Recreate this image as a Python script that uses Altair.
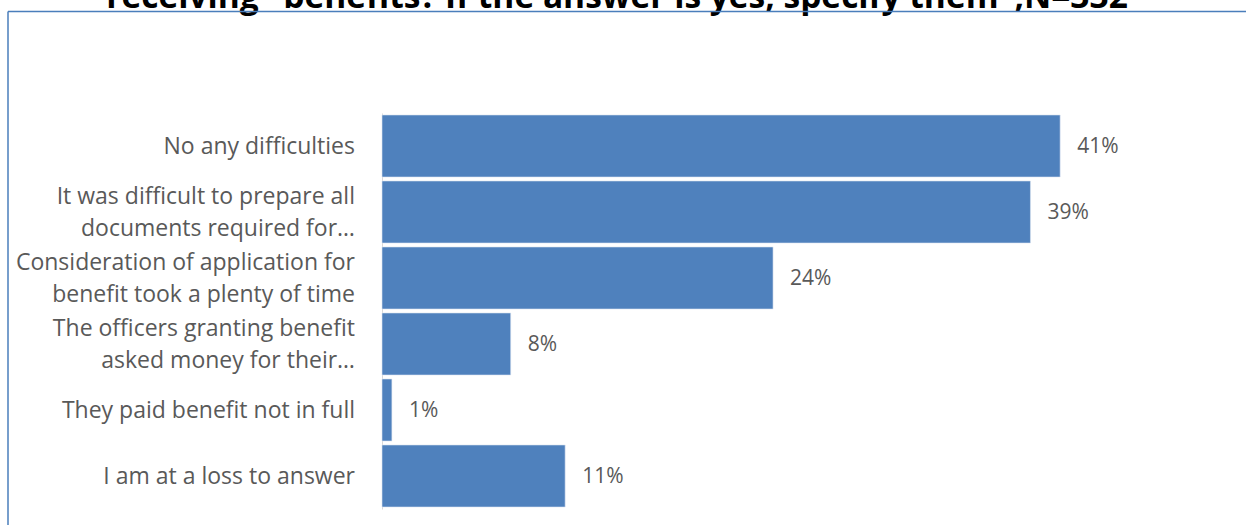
import altair as alt
import pandas as pd

categories = [
    "No any difficulties",
    "It was difficult to prepare all\ndocuments required for…",
    "Consideration of application for\nbenefit took a plenty of time",
    "The officers granting benefit\nasked money for their…",
    "They paid benefit not in full",
    "I am at a loss to answer",
]
values = [41.1, 39.3, 23.7, 7.8, 0.6, 11.1]
value_labels = ["41%", "39%", "24%", "8%", "1%", "11%"]
title_text = 'receiving "benefits? If the answer is yes, specify them",N=332'

df = pd.DataFrame({"cat": categories, "val": values, "lab": value_labels})

TEXT = "#595959"
BLUE = "#4f81bd"
FONT = "Open Sans"
LINE_H = 32

yenc = alt.Y("cat:N", sort=categories,
             scale=alt.Scale(paddingInner=0.06, paddingOuter=0.03),
             axis=alt.Axis(title=None, labels=False, ticks=False, domainColor="#d9d9d9",
                           domainWidth=1, grid=False))
xscale = alt.Scale(domain=[0, 50])

base = alt.Chart(df)

bars = base.mark_bar(color=BLUE, stroke="#dbe4f0", strokeWidth=0.6).encode(
    x=alt.X("val:Q", scale=xscale, axis=None),
    y=yenc,
)

vals = base.mark_text(align="left", baseline="middle", dx=17, dy=1, font=FONT, fontSize=21, color=TEXT).encode(
    x=alt.X("val:Q", scale=xscale),
    y=alt.Y("cat:N", sort=categories),
    text="lab:N",
)

cats = base.transform_calculate(
    off=f"-(length(split(datum.cat, '\\n')) - 1) * {LINE_H} / 2"
).mark_text(align="right", baseline="middle", lineBreak="\n", lineHeight=LINE_H, dy=32,
            font=FONT, fontSize=23, color=TEXT).encode(
    x=alt.value(-27),
    y=alt.Y("cat:N", sort=categories),
    yOffset=alt.YOffset("off:Q", scale=None),
    text="cat:N",
)

tdf = pd.DataFrame({"t": [title_text]})
title = alt.Chart(tdf).mark_text(align="center", baseline="alphabetic", font=FONT, fontSize=33.5,
                                 fontWeight="bold", color="#000000").encode(
    x=alt.value(235), y=alt.value(-105), text="t:N")

border_top = alt.Chart(tdf).mark_rule(color="#4a7ebb", strokeWidth=1.5).encode(
    x=alt.value(-374), x2=alt.value(870), y=alt.value(-101.5))
border_left = alt.Chart(tdf).mark_rule(color="#4a7ebb", strokeWidth=1.5).encode(
    x=alt.value(-374), y=alt.value(-101.5), y2=alt.value(420))

chart = alt.layer(bars, vals, cats, title, border_top, border_left).properties(
    width=825, height=396,
    autosize=alt.AutoSizeParams(type="none"),
    padding={"left": 382, "top": 113, "right": 39, "bottom": 16},
).configure_view(stroke=None)

chart.save("out.html", embed_options={"renderer": "svg", "actions": False})
